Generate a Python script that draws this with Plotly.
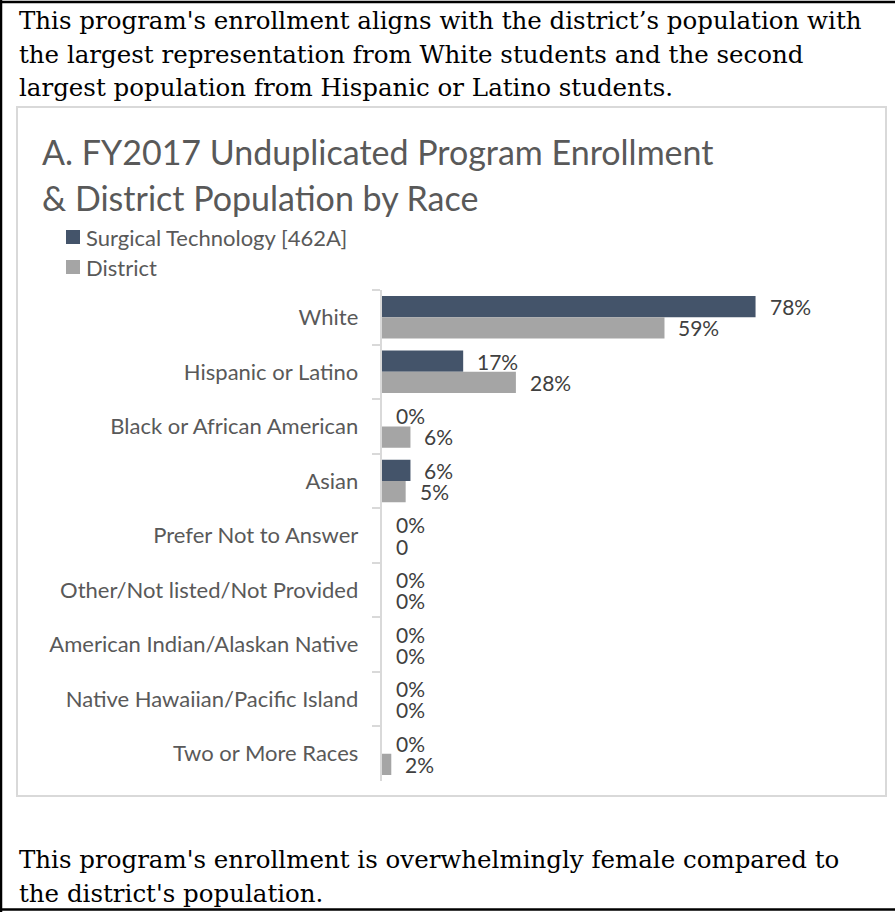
import plotly.graph_objects as go

W, H = 895, 912

categories = [
    "White",
    "Hispanic or Latino",
    "Black or African American",
    "Asian",
    "Prefer Not to Answer",
    "Other/Not listed/Not Provided",
    "American Indian/Alaskan Native",
    "Native Hawaiian/Pacific Island",
    "Two or More Races",
]
program_pct = [78, 17, 0, 6, 0, 0, 0, 0, 0]
district_pct = [59, 28, 6, 5, 0, 0, 0, 0, 2]
program_labels = ["78%", "17%", "0%", "6%", "0%", "0%", "0%", "0%", "0%"]
district_labels = ["59%", "28%", "6%", "5%", "0", "0%", "0%", "0%", "2%"]

series_names = ["Surgical Technology [462A]", "District"]
series_colors = ["#44546A", "#A5A5A5"]

intro_lines = [
    "This program's enrollment aligns with the district\u2019s population with",
    "the largest representation from White students and the second",
    "largest population from Hispanic or Latino students.",
]
outro_lines = [
    "This program's enrollment is overwhelmingly female compared to",
    "the district's population.",
]
title_lines = [
    "A. FY2017 Unduplicated Program Enrollment",
    "& District Population by Race",
]

SANS = "Lato, 'Open Sans', sans-serif"
SERIF = "'DejaVu Serif', serif"
GREY_TXT = "#595959"


def px_x(x):
    return x / W


def px_y(y):
    return 1 - y / H


fig = go.Figure()
for name, vals, color in zip(series_names, [program_pct, district_pct], series_colors):
    fig.add_trace(go.Bar(
        name=name, y=categories, x=vals, orientation="h",
        marker=dict(color=color, line=dict(width=0)),
        hoverinfo="skip", showlegend=False,
    ))

# value labels beside each bar
half_bar = 10.6
annotations = []
for vals, labels, shift in [(program_pct, program_labels, half_bar),
                            (district_pct, district_labels, -half_bar)]:
    for cat, v, lab in zip(categories, vals, labels):
        annotations.append(dict(
            x=v, y=cat, xref="x", yref="y", text=lab, showarrow=False,
            xanchor="left", yanchor="middle", xshift=12, yshift=shift,
            font=dict(family=SANS, size=21, color="#404040"),
        ))

# legend: colour swatch + series name
shapes = []
for i, (name, color) in enumerate(zip(series_names, series_colors)):
    cy = 237 + i * 30
    shapes.append(dict(type="rect", xref="paper", yref="paper",
                       x0=px_x(66), x1=px_x(80), y0=px_y(cy + 7), y1=px_y(cy - 7),
                       fillcolor=color, line=dict(width=0)))
    annotations.append(dict(
        x=px_x(84), y=px_y(cy), xref="paper", yref="paper", text=name,
        showarrow=False, xanchor="left", yanchor="middle",
        font=dict(family=SANS, size=22, color=GREY_TXT),
    ))

# chart title (two lines)
for i, line in enumerate(title_lines):
    annotations.append(dict(
        x=px_x(40), y=px_y(152 + i * 46), xref="paper", yref="paper",
        text=line, showarrow=False, xanchor="left", yanchor="middle",
        font=dict(family=SANS, size=34, color=GREY_TXT),
    ))

# surrounding paragraph text
for i, line in enumerate(intro_lines):
    annotations.append(dict(
        x=px_x(17), y=px_y(21 + i * 33.4), xref="paper", yref="paper",
        text=line, showarrow=False, xanchor="left", yanchor="middle",
        font=dict(family=SERIF, size=24.5, color="#000000"),
    ))
for i, line in enumerate(outro_lines):
    annotations.append(dict(
        x=px_x(17), y=px_y(859 + i * 34), xref="paper", yref="paper",
        text=line, showarrow=False, xanchor="left", yanchor="middle",
        font=dict(family=SERIF, size=24.5, color="#000000"),
    ))

shapes += [
    # chart frame
    dict(type="rect", xref="paper", yref="paper",
         x0=px_x(17), x1=px_x(886), y0=px_y(796), y1=px_y(107),
         line=dict(color="#D9D9D9", width=2), fillcolor="rgba(0,0,0,0)", layer="below"),
    # page border
    dict(type="line", xref="paper", yref="paper", x0=0, x1=1, y0=px_y(2), y1=px_y(2),
         line=dict(color="#000000", width=2.5)),
    dict(type="line", xref="paper", yref="paper", x0=px_x(1), x1=px_x(1), y0=0, y1=1,
         line=dict(color="#000000", width=2.5)),
    dict(type="line", xref="paper", yref="paper", x0=0, x1=1, y0=px_y(909.5), y1=px_y(909.5),
         line=dict(color="#000000", width=2.5)),
]

fig.update_layout(
    width=W, height=H,
    margin=dict(l=0, r=0, t=0, b=0),
    paper_bgcolor="white", plot_bgcolor="white",
    barmode="group", bargap=0.22, bargroupgap=0,
    showlegend=False,
    xaxis=dict(domain=[px_x(381.7), px_x(861)], range=[0, 100], visible=False,
               showgrid=False, zeroline=False),
    yaxis=dict(domain=[px_y(781), px_y(290)], autorange="reversed",
               categoryorder="array", categoryarray=categories,
               showline=True, linecolor="#D9D9D9", linewidth=2,
               ticks="outside", tickson="boundaries", ticklen=8, tickcolor="#D9D9D9",
               tickwidth=2, showgrid=False, zeroline=False, ticklabelstandoff=17,
               tickfont=dict(family=SANS, size=22, color=GREY_TXT)),
    annotations=annotations,
    shapes=shapes,
)

fig.write_html("out.html")
